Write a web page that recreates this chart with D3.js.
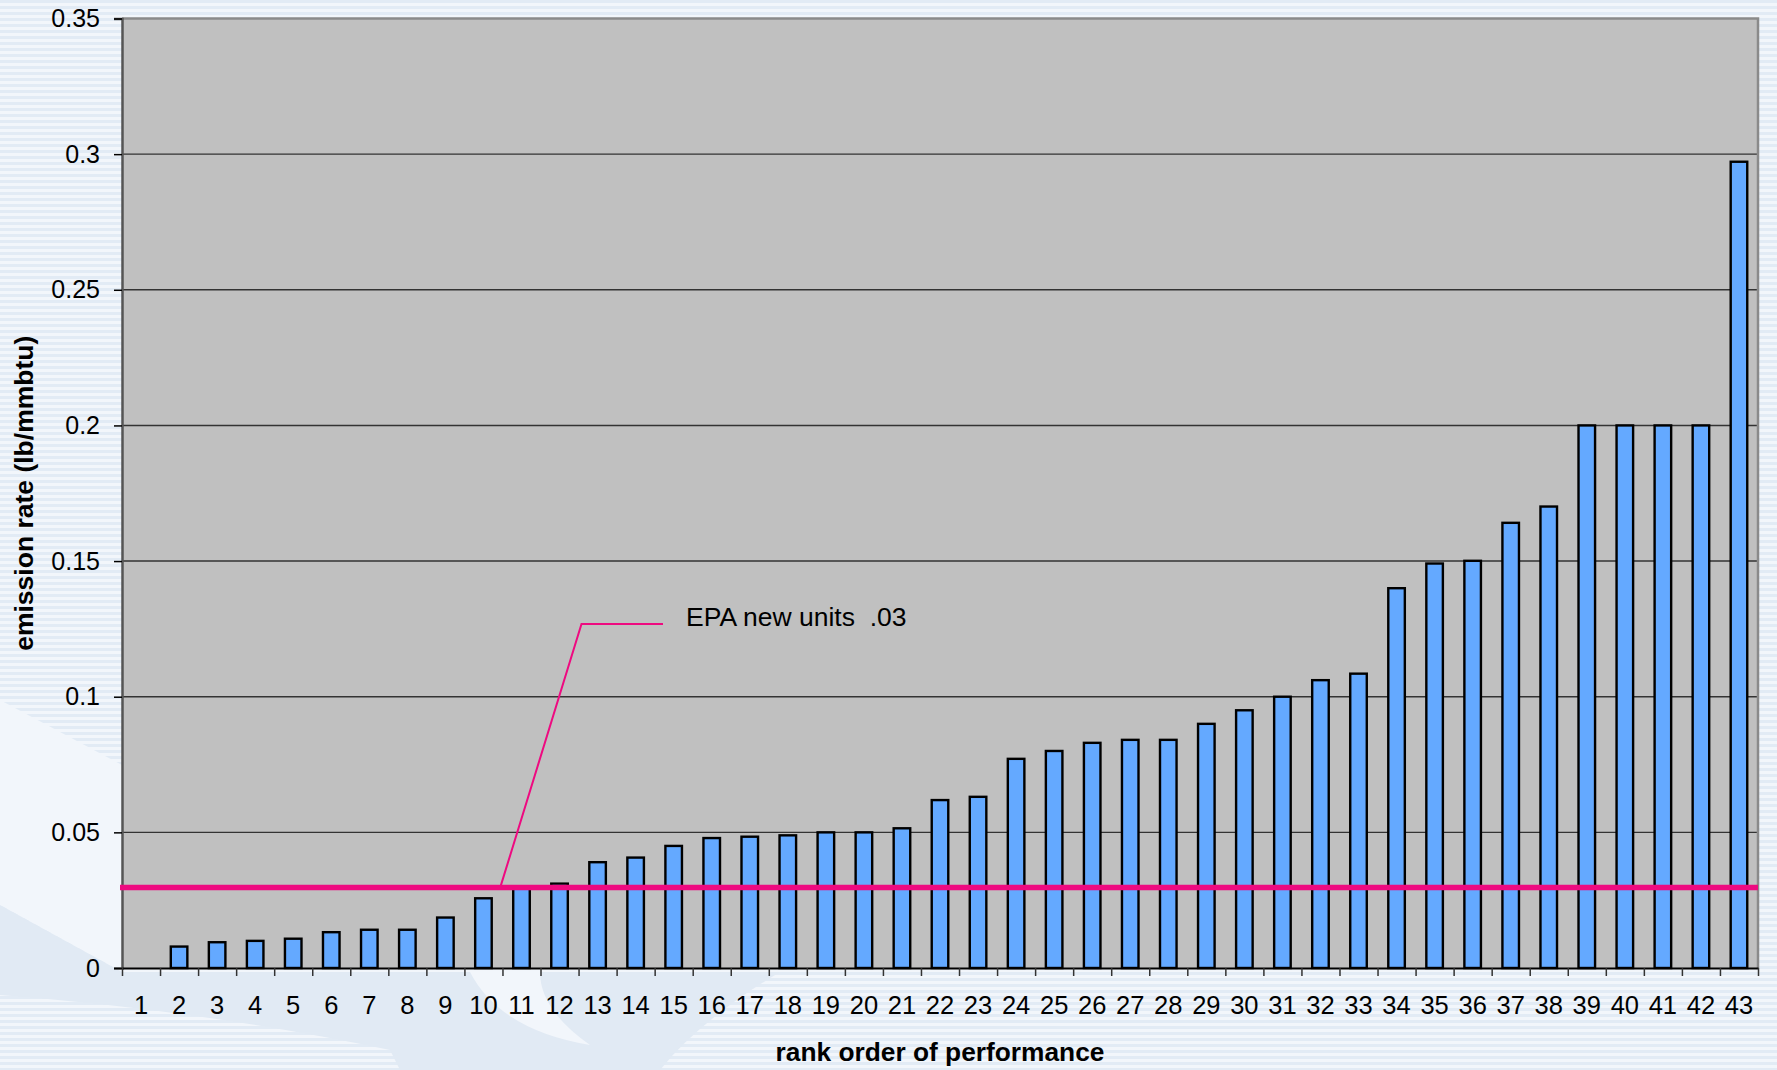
<!DOCTYPE html>
<html>
<head>
<meta charset="utf-8">
<script src="https://cdn.jsdelivr.net/npm/d3@7"></script>
<style>
  html, body { margin: 0; padding: 0; background: #EEF3FA; }
  svg { display: block; }
  text { font-family: "Liberation Sans", Arial, Helvetica, sans-serif; fill: #000; }
</style>
</head>
<body>
<svg id="chart" width="1777" height="1070"></svg>
<script>
// ---------- data ----------
const categories = d3.range(1, 44).map(String);
const emissionRates = [
  0, 0.0079, 0.0095, 0.0100, 0.0108, 0.0132, 0.0141, 0.0141, 0.0186, 0.0257,
  0.0300, 0.0311, 0.0390, 0.0407, 0.0450, 0.0479, 0.0484, 0.0489, 0.0500, 0.0500,
  0.0515, 0.0619, 0.0631, 0.0771, 0.0800, 0.0830, 0.0841, 0.0841, 0.0900, 0.0950,
  0.1000, 0.1061, 0.1085, 0.1400, 0.1491, 0.1501, 0.1641, 0.1701, 0.2000, 0.2000,
  0.2000, 0.2000, 0.2972
];
const yTickValues = [0, 0.05, 0.1, 0.15, 0.2, 0.25, 0.3, 0.35];
const yTickLabels = ["0", "0.05", "0.1", "0.15", "0.2", "0.25", "0.3", "0.35"];
const epaLimit = 0.03;
const epaLabel = "EPA new units  .03";
const xTitle = "rank order of performance";
const yTitle = "emission rate (lb/mmbtu)";

// ---------- layout ----------
const W = 1777, H = 1070;
const plot = { left: 122, right: 1758, top: 18.5, bottom: 968 };

const svg = d3.select("#chart");

// ---------- background decoration ----------
const defs = svg.append("defs");
const pat = defs.append("pattern").attr("id", "stripes")
  .attr("patternUnits", "userSpaceOnUse").attr("width", 12).attr("height", 6);
pat.append("rect").attr("width", 12).attr("height", 6).attr("fill", "#F2F6FB");
pat.append("rect").attr("y", 0).attr("width", 12).attr("height", 3).attr("fill", "#E2EBF5");

svg.append("rect").attr("width", W).attr("height", H).attr("fill", "url(#stripes)");
svg.append("path")
  .attr("d", "M0,700 L122,765 L122,972 L0,905 Z")
  .attr("fill", "#F2F6FB");
svg.append("path")
  .attr("d", "M0,905 L122,972 L780,972 Q700,1020 660,1070 L0,1070 Z")
  .attr("fill", "#E1EAF4");
svg.append("path")
  .attr("d", "M0,995 Q200,1010 390,1050 L400,1070 L0,1070 Z")
  .attr("fill", "url(#stripes)");
svg.append("path")
  .attr("d", "M470,972 Q500,1030 590,1045 Q540,1010 540,972 Z")
  .attr("fill", "#F2F6FB");

// ---------- scales ----------
const x = d3.scaleBand()
  .domain(categories)
  .range([plot.left, plot.right])
  .paddingInner(0.565)
  .paddingOuter(0.2826);
const xEdge = d3.scaleLinear().domain([0, categories.length]).range([plot.left, plot.right]);
const y = d3.scaleLinear().domain([0, 0.35]).range([plot.bottom, plot.top]);

// ---------- plot area ----------
svg.append("rect")
  .attr("x", plot.left).attr("y", plot.top)
  .attr("width", plot.right - plot.left).attr("height", plot.bottom - plot.top)
  .attr("fill", "#C0C0C0");

svg.append("g").selectAll("line")
  .data(yTickValues.filter(v => v > 0 && v < 0.35))
  .join("line")
  .attr("x1", plot.left).attr("x2", plot.right)
  .attr("y1", d => y(d)).attr("y2", d => y(d))
  .attr("stroke", "#333").attr("stroke-width", 1.4);

svg.append("path")
  .attr("d", `M${plot.left},${plot.top} H${plot.right} V${plot.bottom}`)
  .attr("fill", "none").attr("stroke", "#8A8A8A").attr("stroke-width", 2.5);

// ---------- bars ----------
svg.append("g").selectAll("rect")
  .data(categories.map((c, i) => ({ c, v: emissionRates[i] })).filter(d => d.v > 0))
  .join("rect")
  .attr("x", d => x(d.c))
  .attr("y", d => y(d.v))
  .attr("width", x.bandwidth())
  .attr("height", d => y(0) - y(d.v))
  .attr("fill", "#64A9FF")
  .attr("stroke", "#000")
  .attr("stroke-width", 2.4);

// ---------- axes ----------
const yAxis = svg.append("g")
  .attr("transform", `translate(${plot.left},0)`)
  .call(d3.axisLeft(y).tickValues(yTickValues)
    .tickFormat((d, i) => yTickLabels[i]).tickSize(8).tickPadding(14));
yAxis.select(".domain").attr("stroke", "#555").attr("stroke-width", 2.5);
yAxis.selectAll(".tick line").attr("stroke", "#000").attr("stroke-width", 1.5);
yAxis.selectAll(".tick text")
  .style("font-family", '"Liberation Sans", Arial, sans-serif')
  .style("font-size", "25px").attr("fill", "#000");

const xTicks = svg.append("g")
  .attr("transform", `translate(0,${plot.bottom})`)
  .call(d3.axisBottom(xEdge).tickValues(d3.range(0, categories.length + 1))
    .tickFormat("").tickSize(8).tickSizeOuter(0));
xTicks.select(".domain").attr("stroke", "#000").attr("stroke-width", 2);
xTicks.selectAll(".tick line").attr("stroke", "#333").attr("stroke-width", 1.5);

const xLabels = svg.append("g")
  .attr("transform", `translate(0,${plot.bottom})`)
  .call(d3.axisBottom(x).tickSize(0).tickPadding(28));
xLabels.select(".domain").remove();
xLabels.selectAll(".tick text")
  .style("font-family", '"Liberation Sans", Arial, sans-serif')
  .style("font-size", "25.5px").attr("fill", "#000");

// ---------- EPA line ----------
svg.append("line")
  .attr("x1", plot.left - 2).attr("x2", plot.right)
  .attr("y1", y(epaLimit) + 0.8).attr("y2", y(epaLimit) + 0.8)
  .attr("stroke", "#EE0A80").attr("stroke-width", 5.5);

svg.append("polyline")
  .attr("points", [[500.5, y(epaLimit)], [581.5, 624], [663, 624]].map(p => p.join(",")).join(" "))
  .attr("fill", "none").attr("stroke", "#EE0A80").attr("stroke-width", 2);

svg.append("text")
  .attr("x", 686).attr("y", 626)
  .attr("xml:space", "preserve")
  .style("white-space", "pre")
  .style("font-size", "26.5px")
  .text(epaLabel);

// ---------- titles ----------
svg.append("text")
  .attr("x", (plot.left + plot.right) / 2).attr("y", 1061)
  .attr("text-anchor", "middle")
  .style("font-size", "26.3px").style("font-weight", "bold")
  .text(xTitle);

svg.append("text")
  .attr("transform", `translate(33,${(plot.top + plot.bottom) / 2}) rotate(-90)`)
  .attr("text-anchor", "middle")
  .style("font-size", "26.5px").style("font-weight", "bold")
  .text(yTitle);
</script>
</body>
</html>
